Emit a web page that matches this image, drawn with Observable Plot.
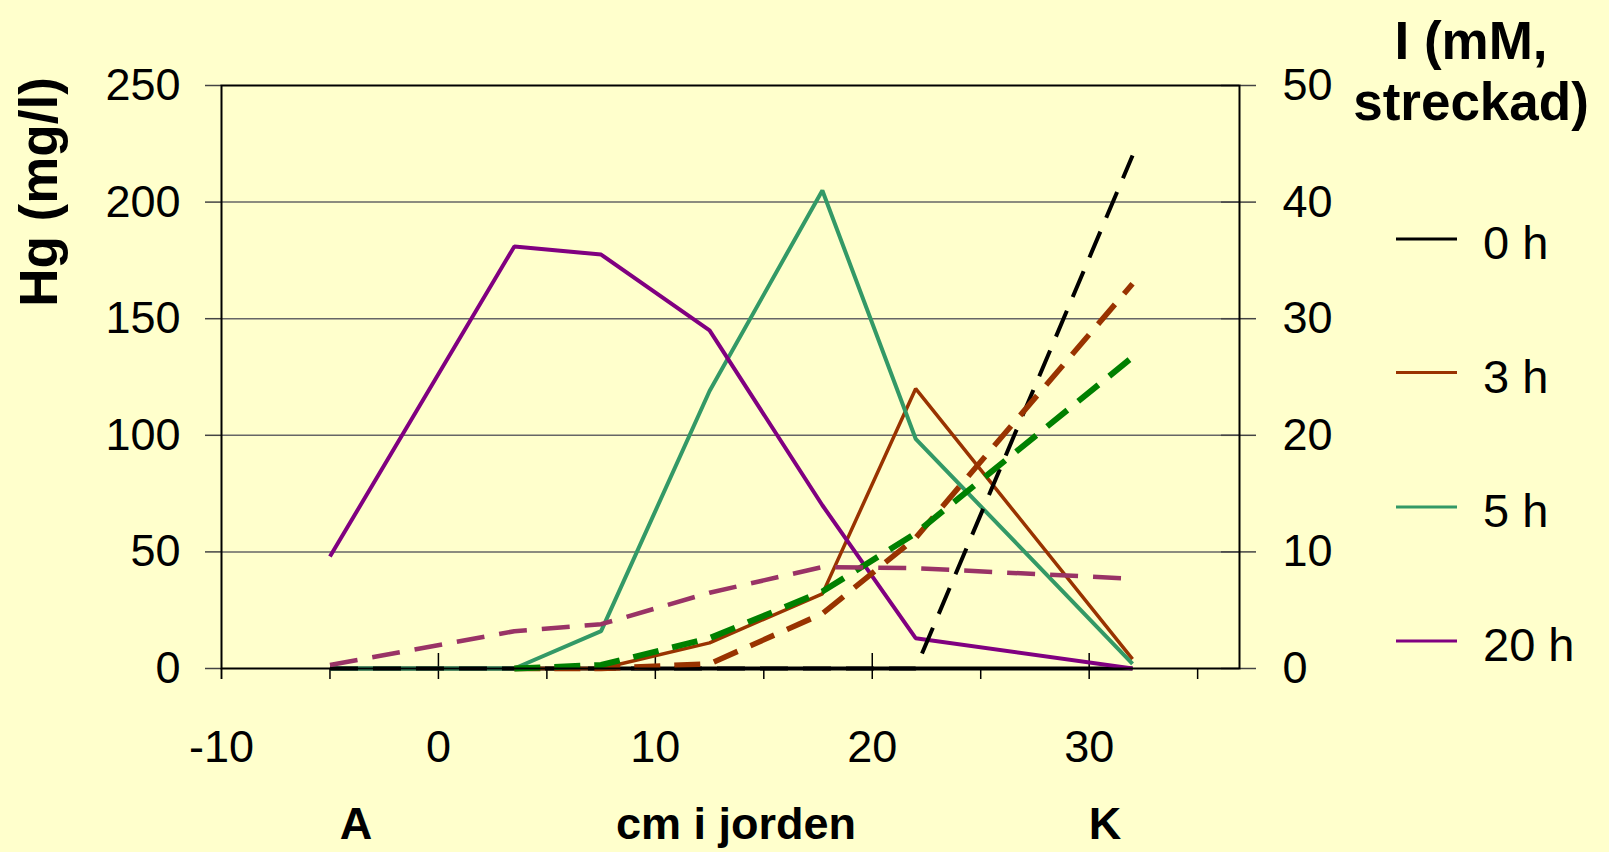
<!DOCTYPE html>
<html><head><meta charset="utf-8">
<script src="https://cdn.jsdelivr.net/npm/d3@7"></script>
<script src="https://cdn.jsdelivr.net/npm/@observablehq/plot@0.6"></script>
<style>
html,body{margin:0;padding:0;background:#FFFFCC;}
#chart{position:relative;width:1609px;height:852px;}
</style></head><body><div id="chart"></div>
<script>
// depth positions (cm i jorden)
const depth = [-5, 3.5, 7.5, 12.5, 17.7, 22, 32];
// Hg (mg/l), solid lines, left axis
const hg0h  = [0, 0, 0, 0, 0, 0, 0];
const hg3h  = [null, 0, 0, 11, 32, 120, 4];
const hg5h  = [0, 0, 16, 119, 205, 98.5, 2];
const hg20h = [48, 181, 177.5, 145, 70, 13, 0];
// I (mM), dashed lines, right axis
const i0h  = [0, 0, 0, 0, 0, 0, 44];
const i3h  = [null, 0, 0, 0.4, 4.7, 11.2, 33];
const i5h  = [null, 0, 0.3, 2.6, 6.6, 11.6, 26.7];
const i20h = [0.3, 3.2, 3.8, 6.5, 8.7, 8.6, 7.7];

const seriesNames = ["0 h", "3 h", "5 h", "20 h"];
const hgTicks = [0, 50, 100, 150, 200, 250];
const hgGrid = [50, 100, 150, 200];
const iTicks = [0, 10, 20, 30, 40, 50];
const xTicks = [-10, 0, 10, 20, 30];
const xMinorTicks = [-10, -5, 5, 15, 25, 35];

const hgColors = ["#000000", "#993300", "#339966", "#800080"];
const iColors = ["#000000", "#993300", "#008000", "#993366"];
const hgWidths = [4, 3.5, 4, 4];
const iWidths = [4, 5.5, 6, 4.5];
const iDash = ["28,15", "26,14", "26,14", "28,15"];

const K = 250 / 50; // right axis (I) -> left axis (Hg) scale

const hgSeries = [hg0h, hg3h, hg5h, hg20h];
const iSeries = [i0h, i3h, i5h, i20h];
const toRows = arr => depth.map((d, k) => ({depth: d, v: arr[k]}));

const hgLines = hgSeries.map((s, j) => Plot.line(toRows(s), {
  x: "depth", y: "v", stroke: hgColors[j], strokeWidth: hgWidths[j],
  strokeLinejoin: "miter", strokeLinecap: "butt"
}));
const iLines = iSeries.map((s, j) => Plot.line(toRows(s), {
  x: "depth", y: d => d.v == null ? null : d.v * K, stroke: iColors[j], strokeWidth: iWidths[j],
  strokeDasharray: iDash[j], strokeLinejoin: "miter", strokeLinecap: "butt"
}));

const plot = Plot.plot({
  width: 1609, height: 852,
  marginLeft: 221, marginRight: 370, marginTop: 85, marginBottom: 184,
  x: {domain: [-10, 36.93]},
  y: {domain: [0, 250]},
  style: {background: "transparent", fontFamily: "'Liberation Sans', Arial, sans-serif", fontSize: "45px", color: "black", overflow: "visible"},
  marks: [
    Plot.gridY(hgGrid, {stroke: "#666", strokeOpacity: 1, strokeWidth: 1.5}),
    Plot.axisY(hgTicks, {anchor: "left", tickSize: 16, tickPadding: 25, label: null, stroke: "#444", strokeWidth: 1.5}),
    Plot.axisY(iTicks.map(v => v * K), {anchor: "right", tickFormat: d => String(d / K), tickSize: 16, tickPadding: 27, label: null, stroke: "#444", strokeWidth: 1.5}),
    Plot.tickY(iTicks.map(v => v * K), {insetLeft: 1000, stroke: "#444", strokeWidth: 1.5}),
    Plot.axisX(xTicks, {tickSize: 11, tickPadding: 51, tickFormat: d => String(d), label: null, stroke: "black", strokeWidth: 1.5}),
    Plot.axisX(xMinorTicks, {tickSize: 11, tickFormat: () => "", label: null, stroke: "black", strokeWidth: 1.5}),
    Plot.tickX(xTicks.slice(1), {insetTop: 568, stroke: "black", strokeWidth: 1.5}),
    ...hgLines,
    ...iLines,
    Plot.frame({stroke: "black", strokeWidth: 2})
  ]
});

document.getElementById("chart").appendChild(plot);
const svg = d3.select(plot);
const font = "'Liberation Sans', Arial, sans-serif";

function addText(txt, x, y, opts = {}) {
  const t = svg.append("text")
    .attr("x", x).attr("y", y)
    .attr("font-family", font)
    .attr("font-size", opts.size || 45)
    .attr("font-weight", opts.bold ? "bold" : "normal")
    .attr("text-anchor", opts.anchor || "middle")
    .attr("fill", "black")
    .text(txt);
  if (opts.rotate) t.attr("transform", `rotate(${opts.rotate},${x},${y})`);
  return t;
}

// axis titles
addText("Hg (mg/l)", 57, 192, {bold: true, size: 53, rotate: -90});
addText("I (mM,", 1471, 59, {bold: true, size: 53});
addText("streckad)", 1471, 120, {bold: true, size: 53});
// bottom labels
addText("A", 356, 839, {bold: true, size: 45});
addText("cm i jorden", 736, 839, {bold: true, size: 45});
addText("K", 1105, 839, {bold: true, size: 45});

// legend
const legY = [239, 372.5, 507, 641];
seriesNames.forEach((name, j) => {
  svg.append("line").attr("x1", 1396).attr("x2", 1457)
    .attr("y1", legY[j]).attr("y2", legY[j])
    .attr("stroke", hgColors[j]).attr("stroke-width", 3);
  addText(name, 1483, legY[j] + 20, {anchor: "start", size: 47});
});
</script></body></html>
